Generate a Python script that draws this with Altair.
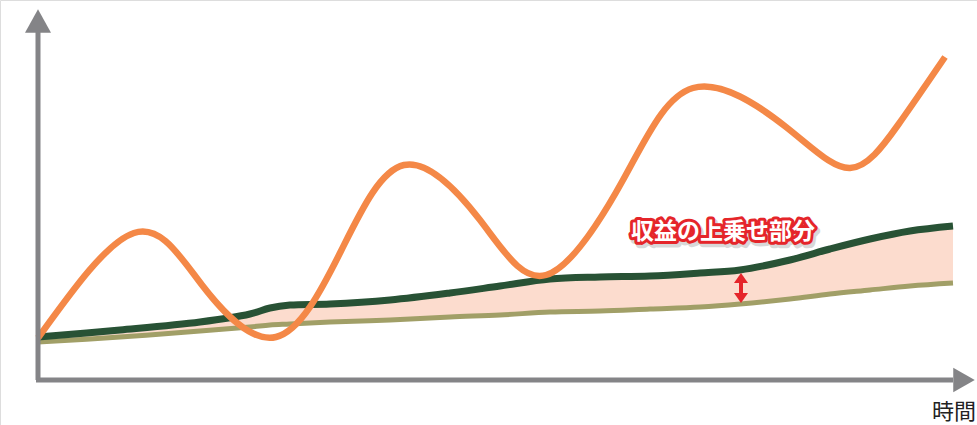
import altair as alt
import pandas as pd

# ---- data ----
# orange (volatile investment) line: extremes and mid-swing points
orange_t = [0, 96, 164, 238, 303, 366, 442, 508, 585, 655, 748, 812, 860, 907]
orange_v = [42, 147, 95, 43, 129, 215, 160, 105, 200, 292, 253, 212, 255, 323]

# green (upper) and olive (lower) lines share the time points
base_t = [0, 82, 162, 212, 232, 252, 292, 352, 412, 462, 512, 562, 612, 662, 702,
          752, 792, 832, 872, 915]
green_v = [43, 50, 58, 66, 72, 75, 76, 80, 87, 94, 101, 103, 104, 107, 110,
           120, 131, 141, 149, 154]
olive_v = [38, 43, 49, 53, 55, 56, 58, 60, 63, 65, 68, 69, 71, 73, 76,
           81, 86, 90, 94, 97]

label_text = "収益の上乗せ部分"
x_label = "時間"

X_DOM = [-38, 939]
Y_DOM = [-45, 380]
W, H = 977, 425

xs = alt.Scale(domain=X_DOM, nice=False, zero=False)
ys = alt.Scale(domain=Y_DOM, nice=False, zero=False)


def X(f):
    return alt.X(f, type="quantitative", scale=xs, axis=None)


def Y(f):
    return alt.Y(f, type="quantitative", scale=ys, axis=None)


orange_df = pd.DataFrame({"t": orange_t, "v": orange_v})
base_df = pd.DataFrame({"t": base_t, "green": green_v, "olive": olive_v})

GRAY = "#848487"
INTERP = "catmull-rom"

area = alt.Chart(base_df).mark_area(color="#FCDCCE", interpolate=INTERP).encode(
    x=X("t"), y=Y("green"), y2="olive")
olive = alt.Chart(base_df).mark_line(color="#A19F67", strokeWidth=5, interpolate=INTERP).encode(
    x=X("t"), y=Y("olive"))
green = alt.Chart(base_df).mark_line(color="#285235", strokeWidth=7, interpolate=INTERP).encode(
    x=X("t"), y=Y("green"))
orange = alt.Chart(orange_df).mark_line(color="#F48847", strokeWidth=6.5, interpolate="natural",
                                        strokeCap="butt").encode(x=X("t"), y=Y("v"))

# axes with arrows
axis_df = pd.DataFrame({"x1": [-2, 0], "x2": [915, 0], "y1": [0, 0], "y2": [0, 350]})
axes = alt.Chart(axis_df).mark_rule(color=GRAY, strokeWidth=5).encode(
    x=X("x1"), x2="x2", y=Y("y1"), y2="y2")
up_df = pd.DataFrame({"t": [0], "v": [359]})
up = alt.Chart(up_df).mark_point(shape="M-1,0.9L0,-0.9L1,0.9Z", size=676, filled=True,
                                 color=GRAY, opacity=1).encode(x=X("t"), y=Y("v"))
right_df = pd.DataFrame({"t": [926], "v": [0]})
right = alt.Chart(right_df).mark_point(shape="M-0.88,-1L0.88,0L-0.88,1Z", size=600, filled=True,
                                       color=GRAY, opacity=1).encode(x=X("t"), y=Y("v"))

# red double arrow
RED = "#E5252A"
shaft_df = pd.DataFrame({"t": [703], "a": [100], "b": [84]})
shaft = alt.Chart(shaft_df).mark_rule(color=RED, strokeWidth=4).encode(x=X("t"), y=Y("a"), y2="b")
heads_df = pd.DataFrame({"t": [703, 703], "v": [102, 82], "s": ["up", "down"]})
head_up = alt.Chart(heads_df[heads_df.s == "up"]).mark_point(
    shape="M-1,0.7L0,-0.7L1,0.7Z", size=196, filled=True, color=RED, opacity=1).encode(
    x=X("t"), y=Y("v"))
head_dn = alt.Chart(heads_df[heads_df.s == "down"]).mark_point(
    shape="M-1,-0.7L0,0.7L1,-0.7Z", size=196, filled=True, color=RED, opacity=1).encode(
    x=X("t"), y=Y("v"))

# label with red outline and soft shadow
lab_df = pd.DataFrame({"t": [685], "v": [148], "txt": [label_text]})
FONT = "Noto Sans CJK JP"
shadow = alt.Chart(lab_df).mark_text(font=FONT, fontSize=23, fontWeight="bold", color="#000000",
                                     stroke="#000000", strokeWidth=7, opacity=0.15, dx=2, dy=3,
                                     strokeJoin="round").encode(x=X("t"), y=Y("v"), text="txt")
outline = alt.Chart(lab_df).mark_text(font=FONT, fontSize=23, fontWeight="bold", color=RED,
                                      stroke=RED, strokeWidth=6, strokeJoin="round").encode(
    x=X("t"), y=Y("v"), text="txt")
fill = alt.Chart(lab_df).mark_text(font=FONT, fontSize=23, fontWeight="bold", color="#FFFFFF").encode(
    x=X("t"), y=Y("v"), text="txt")

xl_df = pd.DataFrame({"t": [894], "v": [-32], "txt": [x_label]})
xlab = alt.Chart(xl_df).mark_text(font=FONT, fontSize=22, align="left", baseline="middle",
                                  color="#222222").encode(x=X("t"), y=Y("v"), text="txt")

chart = alt.layer(area, olive, green, orange, axes, up, right, shaft, head_up, head_dn,
                  shadow, outline, fill, xlab).properties(
    width=W, height=H, padding=0, autosize=alt.AutoSizeParams(type="none")
).configure_view(stroke=None).configure(background="white")

chart.save("out.html", embed_options={"renderer": "svg", "actions": False})
